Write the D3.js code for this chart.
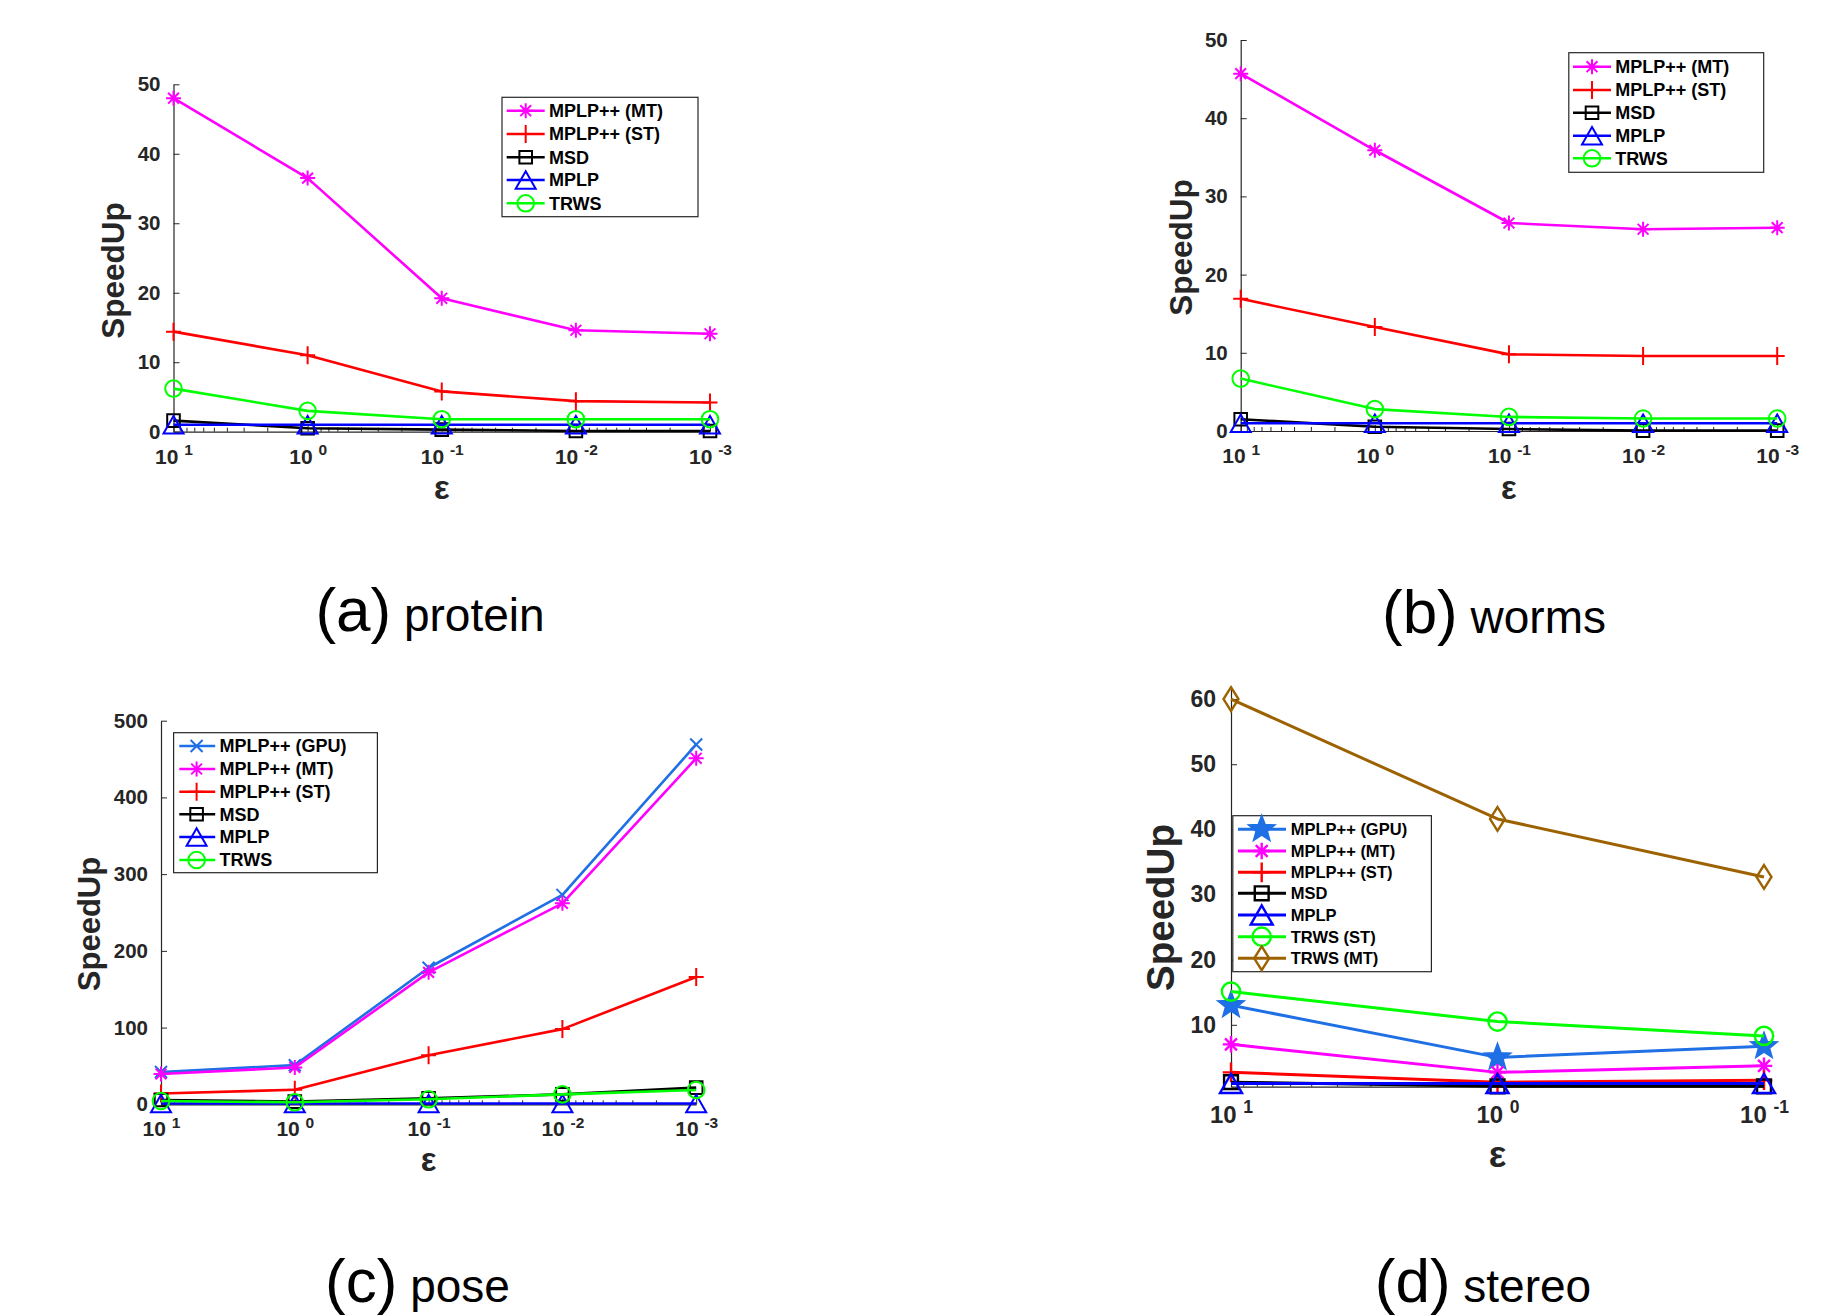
<!DOCTYPE html>
<html><head><meta charset="utf-8">
<script src="https://cdn.jsdelivr.net/npm/d3@7"></script>
<style>
body{margin:0;background:#fff}
svg{display:block}
text{font-family:"Liberation Sans",Arial,Helvetica,sans-serif}
</style>
</head><body>
<svg id="chart" width="1845" height="1316"></svg>
<script>
// ---------------- DATA ----------------
const epsilonFive = [10, 1, 0.1, 0.01, 0.001];
const epsilonThree = [10, 1, 0.1];
const exponentLabelsFive = ["1", "0", "-1", "-2", "-3"];
const exponentLabelsThree = ["1", "0", "-1"];

const yTicksProtein = [0, 10, 20, 30, 40, 50];
const yTicksWorms = [0, 10, 20, 30, 40, 50];
const yTicksPose = [0, 100, 200, 300, 400, 500];
const yTicksStereo = [10, 20, 30, 40, 50, 60];

const proteinMT = [48.0, 36.5, 19.2, 14.6, 14.1];
const proteinST = [14.4, 11.0, 5.8, 4.4, 4.2];
const proteinMSD = [1.6, 0.5, 0.3, 0.1, 0.1];
const proteinMPLP = [1, 1, 1, 1, 1];
const proteinTRWS = [6.2, 3.0, 1.8, 1.8, 1.8];

const wormsMT = [45.7, 35.9, 26.6, 25.8, 26.0];
const wormsST = [16.9, 13.3, 9.8, 9.6, 9.6];
const wormsMSD = [1.5, 0.55, 0.25, 0.05, 0.05];
const wormsMPLP = [1, 1, 1, 1, 1];
const wormsTRWS = [6.7, 2.8, 1.8, 1.6, 1.6];

const poseGPU = [42, 51, 178, 273, 469];
const poseMT = [39.5, 48, 172, 262, 451];
const poseST = [14, 19, 64, 98, 166];
const poseMSD = [5.6, 3.5, 7.8, 13, 21.7];
const poseMPLP = [1, 1, 1, 1, 1];
const poseTRWS = [4.3, 2.6, 6.5, 13, 18.7];

const stereoGPU = [13.0, 5.0, 6.7];
const stereoMT = [7.0, 2.7, 3.7];
const stereoST = [2.7, 1.2, 1.5];
const stereoMSD = [1.2, 0.55, 0.55];
const stereoMPLP = [1, 1, 1];
const stereoTRWSST = [15.1, 10.5, 8.3];
const stereoTRWSMT = [60.0, 41.6, 32.7];

const nameGPU = "MPLP++ (GPU)", nameMT = "MPLP++ (MT)", nameST = "MPLP++ (ST)";
const nameMSD = "MSD", nameMPLP = "MPLP", nameTRWS = "TRWS";
const nameTRWSST = "TRWS (ST)", nameTRWSMT = "TRWS (MT)";

const captionLetters = ["(a)", "(b)", "(c)", "(d)"];
const captionNames = ["protein", "worms", "pose", "stereo"];
const yLabelText = "SpeedUp";
const xLabelText = "ε";

// ---------------- STYLES ----------------
const colMT = "#ff00ff", colST = "#ff0000", colMSD = "#000000", colMPLP = "#0000ff",
      colTRWS = "#00ff00", colGPU = "#1f6fe5", colTRWSMT = "#9c6200";

const svg = d3.select("#chart");
const axisColor = "#262626";

function markerPath(type, s) {
  const p = d3.path();
  switch (type) {
    case "asterisk": {
      const r = 7.5 * s, d = r * 0.72;
      p.moveTo(-r, 0); p.lineTo(r, 0);
      p.moveTo(0, -r); p.lineTo(0, r);
      p.moveTo(-d, -d); p.lineTo(d, d);
      p.moveTo(-d, d); p.lineTo(d, -d);
      break;
    }
    case "plus": {
      const w = 7.5 * s, h = 9 * s;
      p.moveTo(-w, 0); p.lineTo(w, 0);
      p.moveTo(0, -h); p.lineTo(0, h);
      break;
    }
    case "x": {
      const r = 6 * s;
      p.moveTo(-r, -r); p.lineTo(r, r);
      p.moveTo(-r, r); p.lineTo(r, -r);
      break;
    }
    case "square": {
      const r = 6.3 * s;
      p.rect(-r, -r, 2 * r, 2 * r);
      break;
    }
    case "triangle": {
      const w = 10 * s, h = 8.7 * s;
      p.moveTo(0, -h); p.lineTo(w, h); p.lineTo(-w, h); p.closePath();
      break;
    }
    case "circle": {
      const r = 8.3 * s;
      p.moveTo(r, 0); p.arc(0, 0, r, 0, 2 * Math.PI);
      break;
    }
    case "diamond": {
      const w = 6.8 * s, h = 10.8 * s;
      p.moveTo(0, -h); p.lineTo(w, 0); p.lineTo(0, h); p.lineTo(-w, 0); p.closePath();
      break;
    }
    case "star": {
      const R = 11.5 * s, r = R * 0.42;
      for (let i = 0; i < 10; i++) {
        const a = -Math.PI / 2 + i * Math.PI / 5;
        const rr = i % 2 === 0 ? R : r;
        const xx = rr * Math.cos(a), yy = rr * Math.sin(a);
        if (i === 0) p.moveTo(xx, yy); else p.lineTo(xx, yy);
      }
      p.closePath();
      break;
    }
  }
  return p.toString();
}

function drawMarker(g, type, cx, cy, color, s, sw) {
  g.append("path")
    .attr("d", markerPath(type, s))
    .attr("transform", `translate(${cx},${cy})`)
    .attr("fill", type === "star" ? color : "none")
    .attr("stroke", color)
    .attr("stroke-width", sw)
    .attr("stroke-linejoin", "miter");
}

function drawPanel(cfg) {
  const x = d3.scaleLog().domain(cfg.xDomain).range(cfg.xRange);
  const y = d3.scaleLinear().domain(cfg.yDomain).range(cfg.yRange);
  const g = svg.append("g");
  const y0 = cfg.yRange[0];

  // minor log ticks
  const minor = [];
  const lo = Math.min(...cfg.xDomain), hi = Math.max(...cfg.xDomain);
  for (let k = Math.floor(Math.log10(lo)); k < Math.log10(hi); k++) {
    for (let m = 2; m <= 9; m++) {
      const v = m * Math.pow(10, k);
      if (v > lo && v < hi) minor.push(v);
    }
  }
  g.append("g").attr("transform", `translate(0,${y0})`)
    .call(d3.axisBottom(x).tickValues(minor).tickSize(-4).tickSizeOuter(0).tickFormat(""))
    .call(a => a.select(".domain").remove())
    .call(a => a.selectAll("line").attr("stroke", axisColor).attr("stroke-width", 1));

  // major x axis
  const xa = g.append("g").attr("transform", `translate(0,${y0})`)
    .call(d3.axisBottom(x).tickValues(cfg.xValues).tickSize(-6).tickSizeOuter(0).tickFormat(""));
  xa.attr("font-family", '"Liberation Sans",Arial,sans-serif');
  xa.select(".domain").attr("stroke", axisColor).attr("stroke-width", 1.2);
  xa.selectAll(".tick line").attr("stroke", axisColor).attr("stroke-width", 1);
  xa.selectAll(".tick text").each(function (d, i) {
    const t = d3.select(this);
    t.text(null).attr("y", cfg.xLabelY).attr("dy", null)
      .attr("fill", axisColor).attr("font-weight", "bold")
      .attr("font-size", cfg.xTickFont).attr("text-anchor", "middle");
    t.append("tspan").text("10 ");
    t.append("tspan").text(cfg.xExps[i]).attr("font-size", cfg.supFont).attr("dy", -cfg.supRaise);
  });

  // y axis
  const ya = g.append("g").attr("transform", `translate(${cfg.xRange[0]},0)`)
    .call(d3.axisLeft(y).tickValues(cfg.yTicks).tickSize(-6).tickSizeOuter(0).tickPadding(cfg.tickPad));
  ya.attr("font-family", '"Liberation Sans",Arial,sans-serif');
  ya.select(".domain").attr("stroke", axisColor).attr("stroke-width", 1.2);
  ya.selectAll(".tick line").attr("stroke", axisColor).attr("stroke-width", 1);
  ya.selectAll(".tick text").attr("fill", axisColor).attr("font-weight", "bold")
    .attr("font-size", cfg.tickFont);

  // series
  const line = d3.line().x(d => x(d[0])).y(d => y(d[1]));
  cfg.series.forEach(s => {
    const pts = cfg.xValues.map((v, i) => [v, s.values[i]]);
    g.append("path").datum(pts).attr("d", line)
      .attr("fill", "none").attr("stroke", s.color).attr("stroke-width", cfg.lineWidth)
      .attr("stroke-linejoin", "round");
    pts.forEach(p => drawMarker(g, s.marker, x(p[0]), y(p[1]), s.color, cfg.markerScale, cfg.markerStroke));
  });

  // axis labels
  g.append("text").text(yLabelText)
    .attr("transform", `translate(${cfg.yLabel.x},${cfg.yLabel.y}) rotate(-90)`)
    .attr("text-anchor", "middle").attr("font-weight", "bold")
    .attr("font-size", cfg.yLabel.size).attr("fill", axisColor);
  g.append("text").text(xLabelText)
    .attr("x", (cfg.xRange[0] + cfg.xRange[1]) / 2).attr("y", cfg.xLabel.y)
    .attr("text-anchor", "middle").attr("font-weight", "bold")
    .attr("font-size", cfg.xLabel.size).attr("fill", axisColor);

  // legend
  const L = cfg.legend;
  const lg = g.append("g");
  lg.append("rect").attr("x", L.x0).attr("y", L.y0)
    .attr("width", L.x1 - L.x0).attr("height", L.y1 - L.y0)
    .attr("fill", "#fff").attr("stroke", axisColor).attr("stroke-width", 1.2);
  cfg.series.forEach((s, i) => {
    const ry = L.rows[i];
    lg.append("line").attr("x1", L.lineX[0]).attr("x2", L.lineX[1])
      .attr("y1", ry).attr("y2", ry).attr("stroke", s.color).attr("stroke-width", cfg.lineWidth);
    drawMarker(lg, s.marker, L.markX, ry, s.color, cfg.markerScale, cfg.markerStroke);
    lg.append("text").text(s.name).attr("x", L.textX).attr("y", ry).attr("dy", "0.36em")
      .attr("font-weight", "bold").attr("font-size", L.font).attr("fill", "#000");
  });

  // caption
  const c = svg.append("text").attr("x", cfg.caption.x).attr("y", cfg.caption.y)
    .attr("text-anchor", "middle").attr("fill", "#000");
  c.append("tspan").text(cfg.caption.letter).attr("font-size", 62);
  c.append("tspan").text(" " + cfg.caption.name).attr("font-size", 46);
}

// ---------------- PANELS ----------------
drawPanel({
  xDomain: [10, 0.001], xRange: [173.5, 710], xValues: epsilonFive, xExps: exponentLabelsFive,
  yDomain: [0, 50], yRange: [431.7, 84.3], yTicks: yTicksProtein,
  tickFont: 20.5, xTickFont: 21, supFont: 15.5, supRaise: 8.5, xLabelY: 32, tickPad: 13,
  markerScale: 1, markerStroke: 2, lineWidth: 2.6,
  yLabel: { x: 124, y: 270.5, size: 31.5 }, xLabel: { y: 499, size: 33 },
  series: [
    { name: nameMT, values: proteinMT, color: colMT, marker: "asterisk" },
    { name: nameST, values: proteinST, color: colST, marker: "plus" },
    { name: nameMSD, values: proteinMSD, color: colMSD, marker: "square" },
    { name: nameMPLP, values: proteinMPLP, color: colMPLP, marker: "triangle" },
    { name: nameTRWS, values: proteinTRWS, color: colTRWS, marker: "circle" }
  ],
  legend: { x0: 502, y0: 97.3, x1: 698, y1: 216.7, rows: [110.7, 134, 157.3, 180, 203.3],
            lineX: [506.7, 544.7], markX: 525.7, textX: 548.9, font: 18 },
  caption: { x: 430, y: 631, letter: captionLetters[0], name: captionNames[0] }
});

drawPanel({
  xDomain: [10, 0.001], xRange: [1240.7, 1777.2], xValues: epsilonFive, xExps: exponentLabelsFive,
  yDomain: [0, 50], yRange: [431, 40], yTicks: yTicksWorms,
  tickFont: 20.5, xTickFont: 21, supFont: 15.5, supRaise: 8.5, xLabelY: 32, tickPad: 13,
  markerScale: 1, markerStroke: 2, lineWidth: 2.6,
  yLabel: { x: 1192, y: 247.5, size: 31.5 }, xLabel: { y: 499, size: 33 },
  series: [
    { name: nameMT, values: wormsMT, color: colMT, marker: "asterisk" },
    { name: nameST, values: wormsST, color: colST, marker: "plus" },
    { name: nameMSD, values: wormsMSD, color: colMSD, marker: "square" },
    { name: nameMPLP, values: wormsMPLP, color: colMPLP, marker: "triangle" },
    { name: nameTRWS, values: wormsTRWS, color: colTRWS, marker: "circle" }
  ],
  legend: { x0: 1568.8, y0: 52.7, x1: 1763.7, y1: 172.3, rows: [66.7, 90, 112.7, 135.7, 158.3],
            lineX: [1573, 1611], markX: 1592, textX: 1615.2, font: 18 },
  caption: { x: 1494, y: 633, letter: captionLetters[1], name: captionNames[1] }
});

drawPanel({
  xDomain: [10, 0.001], xRange: [161, 696.2], xValues: epsilonFive, xExps: exponentLabelsFive,
  yDomain: [0, 500], yRange: [1104.3, 720.7], yTicks: yTicksPose,
  tickFont: 20.5, xTickFont: 21, supFont: 15.5, supRaise: 8.5, xLabelY: 32, tickPad: 13,
  markerScale: 1, markerStroke: 2, lineWidth: 2.6,
  yLabel: { x: 100, y: 924, size: 31 }, xLabel: { y: 1171, size: 33 },
  series: [
    { name: nameGPU, values: poseGPU, color: colGPU, marker: "x" },
    { name: nameMT, values: poseMT, color: colMT, marker: "asterisk" },
    { name: nameST, values: poseST, color: colST, marker: "plus" },
    { name: nameMSD, values: poseMSD, color: colMSD, marker: "square" },
    { name: nameMPLP, values: poseMPLP, color: colMPLP, marker: "triangle" },
    { name: nameTRWS, values: poseTRWS, color: colTRWS, marker: "circle" }
  ],
  legend: { x0: 173.6, y0: 732.7, x1: 377.4, y1: 872.7, rows: [746, 769, 791.7, 814.3, 837, 860],
            lineX: [179.3, 215.2], markX: 196.6, textX: 219.6, font: 18 },
  caption: { x: 417.5, y: 1302, letter: captionLetters[2], name: captionNames[2] }
});

drawPanel({
  xDomain: [10, 0.1], xRange: [1231, 1764], xValues: epsilonThree, xExps: exponentLabelsThree,
  yDomain: [0.5, 61.5], yRange: [1086.7, 689.3], yTicks: yTicksStereo,
  tickFont: 23, xTickFont: 24, supFont: 17.5, supRaise: 10, xLabelY: 36, tickPad: 15,
  markerScale: 1.1, markerStroke: 2.4, lineWidth: 3,
  yLabel: { x: 1174, y: 907.5, size: 38.5 }, xLabel: { y: 1167, size: 37 },
  series: [
    { name: nameGPU, values: stereoGPU, color: colGPU, marker: "star" },
    { name: nameMT, values: stereoMT, color: colMT, marker: "asterisk" },
    { name: nameST, values: stereoST, color: colST, marker: "plus" },
    { name: nameMSD, values: stereoMSD, color: colMSD, marker: "square" },
    { name: nameMPLP, values: stereoMPLP, color: colMPLP, marker: "triangle" },
    { name: nameTRWSST, values: stereoTRWSST, color: colTRWS, marker: "circle" },
    { name: nameTRWSMT, values: stereoTRWSMT, color: colTRWSMT, marker: "diamond" }
  ],
  legend: { x0: 1232.8, y0: 815.7, x1: 1431.4, y1: 971.7,
            rows: [829.3, 851, 872.3, 893.3, 915, 936.7, 958.3],
            lineX: [1238, 1286], markX: 1261.7, textX: 1290.7, font: 16.5 },
  caption: { x: 1483, y: 1302, letter: captionLetters[3], name: captionNames[3] }
});
</script>
</body></html>
